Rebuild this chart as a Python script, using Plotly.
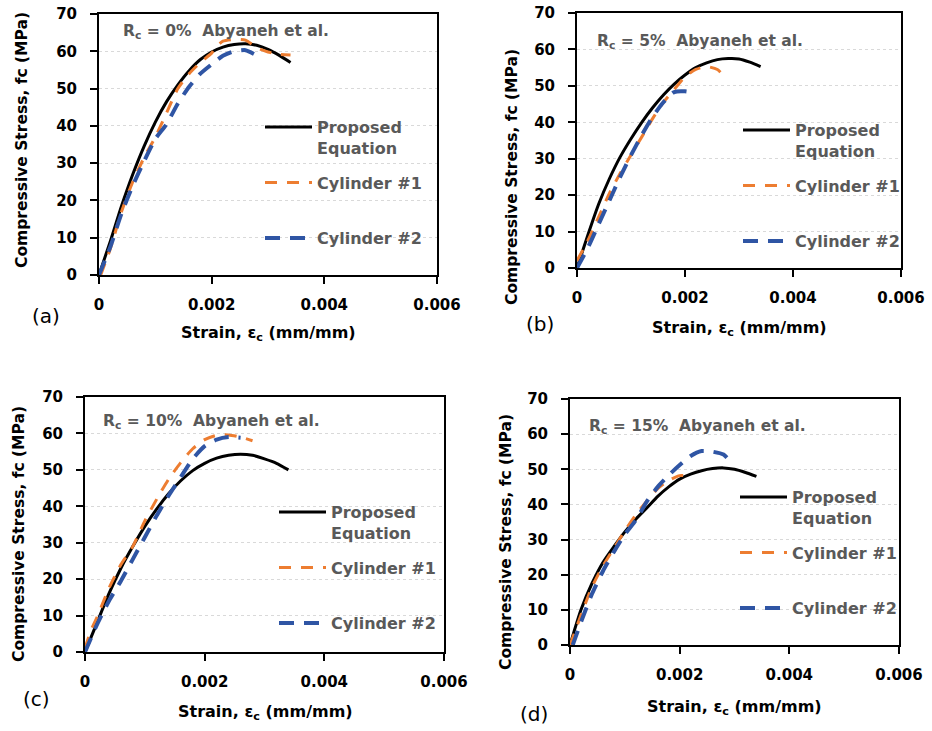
import plotly.graph_objects as go

W, H = 932, 731

# Strain values (mm/mm) and compressive stress (MPa) for each replacement ratio
strain_eq_a = [0, 0.0002, 0.0004, 0.0006, 0.0008, 0.001, 0.0012, 0.0014, 0.0016, 0.0018,
               0.002, 0.0022, 0.0024, 0.0026, 0.0028, 0.003, 0.0032, 0.0034]
stress_eq_a = [0, 9, 18.5, 27, 34.5, 41, 46.5, 51, 54.8, 57.8,
               59.8, 61.1, 61.8, 62, 61.6, 60.5, 58.9, 57]
strain_c1_a = [0.00003, 0.0002, 0.0004, 0.0006, 0.0008, 0.001, 0.0012, 0.0014, 0.0016, 0.0018,
               0.002, 0.0021, 0.0022, 0.0024, 0.0026, 0.0028, 0.003, 0.0032, 0.0034]
stress_c1_a = [0, 7, 17, 25, 31.5, 37, 43.5, 50, 54, 57,
               59.5, 61.5, 62.7, 63.2, 63, 61, 59.8, 59.2, 59]
strain_c2_a = [0, 0.0002, 0.0004, 0.0006, 0.0008, 0.001, 0.0012, 0.0014, 0.0016, 0.0018,
               0.002, 0.0022, 0.0024, 0.0026, 0.00275]
stress_c2_a = [0, 7.5, 16.5, 24, 30.5, 36.5, 40.5, 46, 50.5, 54,
               56.5, 58.8, 60, 60.3, 59.3]

strain_eq_b = [0, 0.0002, 0.0004, 0.0006, 0.0008, 0.001, 0.0012, 0.0014, 0.0016, 0.0018,
               0.002, 0.0022, 0.0024, 0.0026, 0.0028, 0.003, 0.0032, 0.0034]
stress_eq_b = [0, 9, 17.5, 24.5, 30.5, 35.5, 40, 44, 47.5, 50.5,
               53, 55, 56.3, 57.2, 57.5, 57.4, 56.5, 55.3]
strain_c1_b = [0, 0.0002, 0.0004, 0.0006, 0.0008, 0.001, 0.0012, 0.0014, 0.0016, 0.0018,
               0.002, 0.0022, 0.0024, 0.0026, 0.0027]
stress_c1_b = [2, 7.5, 14, 20.5, 26, 31, 36, 41, 45.5, 49,
               52.5, 54.5, 55.3, 54.5, 53]
strain_c2_b = [0, 0.0002, 0.0004, 0.0006, 0.0008, 0.001, 0.0012, 0.0014, 0.0016, 0.0018,
               0.002, 0.0022]
stress_c2_b = [0, 5.5, 12, 18.5, 25, 31, 36.5, 41.5, 45.5, 48.3,
               48.5, 48]

strain_eq_c = [0, 0.0002, 0.0004, 0.0006, 0.0008, 0.001, 0.0012, 0.0014, 0.0016, 0.0018,
               0.002, 0.0022, 0.0024, 0.0026, 0.0028, 0.003, 0.0032, 0.0034]
stress_eq_c = [0, 8, 16, 23, 29, 34.5, 39.3, 43.5, 47, 49.8,
               51.8, 53.2, 54, 54.3, 54, 53, 51.8, 50]
strain_c1_c = [0, 0.0001, 0.0002, 0.0004, 0.0006, 0.0008, 0.001, 0.0012, 0.0014, 0.0016,
               0.0018, 0.002, 0.0022, 0.0024, 0.0026, 0.0028]
stress_c1_c = [1, 6, 9.5, 17.5, 24, 29, 36, 42, 47.5, 52,
               55.8, 58.3, 59.5, 59.6, 59, 58]
strain_c2_c = [0, 0.0002, 0.0004, 0.0006, 0.0008, 0.001, 0.0012, 0.0014, 0.0016, 0.0018,
               0.002, 0.0022, 0.0024, 0.0026]
stress_c2_c = [0, 7.5, 14, 19.5, 25.5, 31.5, 37.5, 43, 48, 53,
               56.5, 58.3, 59, 58.8]

strain_eq_d = [0, 0.0002, 0.0004, 0.0006, 0.0008, 0.001, 0.0012, 0.0014, 0.0016, 0.0018,
               0.002, 0.0022, 0.0024, 0.0026, 0.0028, 0.003, 0.0032, 0.0034]
stress_eq_d = [0, 10, 17.5, 23.5, 28, 32.2, 35.8, 39, 42.3, 45,
               47.2, 48.6, 49.6, 50.2, 50.4, 50, 49.1, 48]
strain_c1_d = [0, 0.0002, 0.0004, 0.0006, 0.0008, 0.001, 0.0012, 0.0014, 0.0016, 0.0018,
               0.002, 0.0022]
stress_c1_d = [0, 8.5, 16.5, 22.5, 27.5, 32.5, 37, 41, 44.5, 46.8,
               48.2, 48]
strain_c2_d = [0.00005, 0.0002, 0.0004, 0.0006, 0.0008, 0.001, 0.0012, 0.0014, 0.0016, 0.0018,
               0.002, 0.0022, 0.0024, 0.0026, 0.0028, 0.0029]
stress_c2_d = [0, 6.5, 14.5, 21, 26.5, 31.5, 35.5, 40.8, 45, 48.3,
               51.2, 53.8, 55.2, 55, 54.2, 52.7]

panel_letters = ["(a)", "(b)", "(c)", "(d)"]
replacement = ["0%", "5%", "10%", "15%"]
series_names = ["Proposed<br>Equation", "Cylinder #1<br>\u00a0", "Cylinder #2"]
x_ticks = [0, 0.002, 0.004, 0.006]
x_tick_text = ["0", "0.002", "0.004", "0.006"]
y_ticks = [0, 10, 20, 30, 40, 50, 60, 70]

panels = [
    ((strain_eq_a, stress_eq_a), (strain_c1_a, stress_c1_a), (strain_c2_a, stress_c2_a)),
    ((strain_eq_b, stress_eq_b), (strain_c1_b, stress_c1_b), (strain_c2_b, stress_c2_b)),
    ((strain_eq_c, stress_eq_c), (strain_c1_c, stress_c1_c), (strain_c2_c, stress_c2_c)),
    ((strain_eq_d, stress_eq_d), (strain_c1_d, stress_c1_d), (strain_c2_d, stress_c2_d)),
]

# plot-area boxes in pixels: left, right, top, bottom
boxes = [(99, 437, 14, 275), (577, 901, 13, 268), (85, 444, 397, 652), (570, 899, 399, 645)]
legend_pos = [(260, 110), (738, 113), (274, 495), (735, 480)]
ytitle_pos = [(22, 140), (512, 177), (19, 534), (506, 542)]
xtitle_pos = [(268, 333), (739, 329), (265, 712), (734, 707)]
letter_pos = [(46, 316), (540, 324), (36, 699), (534, 714)]
rc_pos = [(121, 32), (595, 42), (101, 422), (587, 427)]

line_styles = [
    dict(color="black", width=3, dash="solid"),
    dict(color="#ED7D31", width=3, dash="12px,10px"),
    dict(color="#2F55A4", width=4, dash="15px,10px"),
]

FONT = "DejaVu Sans"
GRAY = "#595959"


def px(x):
    return x / W


def py(y):
    return 1 - y / H


fig = go.Figure()
layout = dict(
    width=W, height=H, margin=dict(l=0, r=0, t=0, b=0, autoexpand=False),
    paper_bgcolor="white", plot_bgcolor="white",
    font=dict(family=FONT, size=15, color="black", weight="bold"),
    annotations=[],
)

for i, (series, box) in enumerate(zip(panels, boxes)):
    n = "" if i == 0 else str(i + 1)
    leg = "legend" + n
    for j, ((xs, ys), st) in enumerate(zip(series, line_styles)):
        fig.add_trace(go.Scatter(
            x=xs, y=ys, mode="lines", name=series_names[j],
            line=dict(color=st["color"], width=st["width"], dash=st["dash"],
                      shape="spline", smoothing=0.6),
            xaxis="x" + n, yaxis="y" + n, legend=leg,
            legendgroup="g%d" % j,
        ))
    l, r, t, b = box
    axis_common = dict(
        showline=True, linecolor="black", linewidth=2, mirror=True,
        ticks="outside", ticklen=7, tickwidth=2, tickcolor="black",
        tickfont=dict(family=FONT, size=15, color="black", weight="bold"),
        zeroline=False, fixedrange=True,
    )
    layout["xaxis" + n] = dict(
        domain=[px(l), px(r)], anchor="y" + n, range=[0, 0.006],
        tickvals=x_ticks, ticktext=x_tick_text, showgrid=False,
        ticklabelstandoff=8, **axis_common)
    layout["yaxis" + n] = dict(
        domain=[py(b), py(t)], anchor="x" + n, range=[0, 70],
        tickvals=y_ticks, showgrid=True, gridcolor="#D9D9D9", gridwidth=1,
        griddash="dot", ticklabelstandoff=10, **axis_common)
    lx, ly = legend_pos[i]
    layout[leg] = dict(
        x=px(lx), y=py(ly), xanchor="left", yanchor="top",
        bgcolor="rgba(0,0,0,0)", borderwidth=0, itemwidth=47, valign="top",
        tracegroupgap=11, font=dict(family=FONT, size=16, color=GRAY, weight="bold"),
        traceorder="grouped",
    )
    ann = layout["annotations"]
    yx, yy = ytitle_pos[i]
    ann.append(dict(text="Compressive Stress, fc (MPa)", x=px(yx), y=py(yy), xref="paper",
                    yref="paper", xanchor="center", yanchor="middle",
                    showarrow=False, textangle=-90,
                    font=dict(family=FONT, size=15.5, color="black", weight="bold")))
    xx, xy = xtitle_pos[i]
    ann.append(dict(text="Strain, \u03b5<sub>c</sub> (mm/mm)", x=px(xx), y=py(xy), xref="paper",
                    yref="paper", xanchor="center", yanchor="middle", showarrow=False,
                    font=dict(family=FONT, size=16, color="black", weight="bold")))
    tx, ty = letter_pos[i]
    ann.append(dict(text=panel_letters[i], x=px(tx), y=py(ty), xref="paper", yref="paper",
                    xanchor="center", yanchor="middle", showarrow=False,
                    font=dict(family=FONT, size=20, color="black", weight="normal")))
    rx, ry = rc_pos[i]
    ann.append(dict(text="R<sub>c</sub> = %s\u00a0 Abyaneh et al." % replacement[i],
                    x=px(rx), y=py(ry), xref="paper", yref="paper", xanchor="left",
                    yanchor="middle", showarrow=False,
                    font=dict(family=FONT, size=15.5, color=GRAY, weight="bold")))

fig.update_layout(**layout)
fig.write_html("out.html")
